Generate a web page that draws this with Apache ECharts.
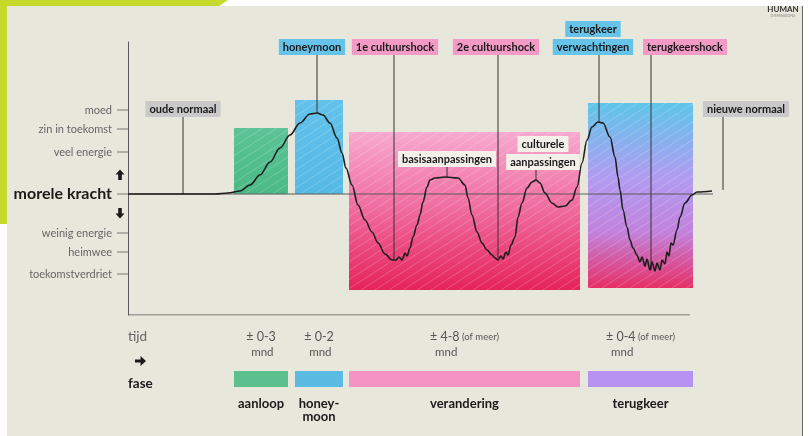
<!DOCTYPE html>
<html><head><meta charset="utf-8">
<script src="https://cdn.jsdelivr.net/npm/echarts@6/dist/echarts.min.js"></script>
<style>html,body{margin:0;padding:0;background:#fff}#c{width:809px;height:436px}</style>
</head><body><div id="c"></div>
<script>
// ---------------- data ----------------
const levelLabels = ['moed', 'zin in toekomst', 'veel energie', 'weinig energie', 'heimwee', 'toekomstverdriet'];
const levelValues = [84, 65, 42, -39, -58, -80];
const axisTitle = 'morele kracht';

const curveX = [0,52,87,100,112,122,132,142,152,162,172,182,189,195,202,209,214,218,224,230,237,244,250,257,264,268,271,274,277,279,282,285,289,292,295,299,302,307,317,330,337,340,344,349,354,359,364,367,370,373,375,378,380,383,387,390,394,399,404,408,412,417,424,430,437,444,449,454,459,464,470,475,482,487,490,492,495,499,502,505,509,512,514,517,519,522,524,527,529,532,534,537,539,541,543,545,549,552,557,564,569,584];
const curveY = [0,0,0,1,3,9,19,32,46,59,71,80,81,79,71,56,41,26,9,-11,-26,-38,-49,-60,-66,-66,-63,-66,-59,-62,-54,-43,-31,-21,-8,7,14,16,17,16,9,-4,-21,-38,-49,-56,-61,-64,-66,-62,-65,-58,-61,-51,-43,-23,-9,6,12,14,11,1,-9,-13,-12,-6,7,31,54,67,72,71,57,37,17,4,-16,-33,-46,-54,-61,-68,-63,-72,-65,-76,-68,-77,-69,-76,-66,-70,-58,-62,-49,-51,-36,-23,-9,-1,2,3];
const baselineEnd = 585;
const timeAxisEnd = 562;
const moraleMin = -121;

const phaseNames = ['aanloop', 'honey-\nmoon', 'verandering', 'terugkeer'];
const phaseDurations = ['± 0-3', '± 0-2', '± 4-8', '± 0-4'];
const phaseNotes = ['', '', '(of meer)', '(of meer)'];
const phaseUnit = 'mnd';
const phaseStart = [106, 167, 221, 460];
const phaseEnd = [160, 215, 452, 565];
const phaseHigh = [66, 94, 62, 91];
const phaseLow = [0, 0, -96, -94];

const annoTexts = ['oude normaal', 'honeymoon', '1e cultuurshock', '2e cultuurshock', 'terugkeer\nverwachtingen', 'terugkeershock', 'nieuwe normaal', 'basisaanpassingen', 'culturele\naanpassingen'];
const annoKind = ['normal', 'high', 'low', 'low', 'high', 'low', 'normal', 'adapt', 'adapt'];
const annoX = [55, 189, 266, 370, 471, 523, 595, 319, 408];
const annoPointY = [0, 81, -66, -64, 72, -76, 4, 17, 14];
const annoLabelX = [55, 184, 267, 368, 465, 557, 618, 319, 415];
const annoLabelY = [85, 147, 147, 147, 147, 147, 85, 35, 32];

// ---------------- styles ----------------
const FONT = 'Lato, "Noto Sans", sans-serif';
const kindColor = { normal: '#c9c9c9', high: '#66c4ea', low: '#f39ac6', adapt: '#f2f0e8' };
const barColors = ['#5bbf8e', '#5bbbe3', '#f592c4', '#b693f2'];
const G = echarts.graphic;
const zoneFills = [
  new G.LinearGradient(0, 0, 0, 1, [{offset: 0, color: '#5cc496'}, {offset: 1, color: '#4bb985'}]),
  new G.LinearGradient(0, 0, 0, 1, [{offset: 0, color: '#62c2ec'}, {offset: 1, color: '#56b9e4'}]),
  new G.LinearGradient(0, 0, 0, 1, [{offset: 0, color: '#f7a9cf'}, {offset: 0.45, color: '#f170a3'}, {offset: 1, color: '#e5235a'}]),
  new G.LinearGradient(0, 0, 0, 1, [{offset: 0, color: '#5ec6ea'}, {offset: 0.4, color: '#b19cf1'}, {offset: 0.7, color: '#c282dc'}, {offset: 1, color: '#e72f66'}])
];

// hatch pattern
const pc = document.createElement('canvas');
pc.width = 14; pc.height = 9;
const px = pc.getContext('2d');
px.strokeStyle = 'rgba(255,255,255,0.2)';
px.lineWidth = 1;
for (const k of [-14, 0, 14]) { px.beginPath(); px.moveTo(k, 9); px.lineTo(k + 14, 0); px.stroke(); }
const hatch = { image: pc, repeat: 'repeat' };

const mctx = document.createElement('canvas').getContext('2d');
function tw(txt, font) { mctx.font = font; return mctx.measureText(txt).width; }

const chart = echarts.init(document.getElementById('c'), null, { renderer: 'canvas' });

function upArrow(cx, cy, dir) {
  const s = dir;
  return { type: 'polygon', shape: { points: [[cx - 4.5, cy - 0.5 * s], [cx, cy - 5.5 * s], [cx + 4.5, cy - 0.5 * s], [cx + 1.8, cy - 0.5 * s], [cx + 1.8, cy + 5 * s], [cx - 1.8, cy + 5 * s], [cx - 1.8, cy - 0.5 * s]] }, style: { fill: '#1a1a1a' } };
}

chart.setOption({
  backgroundColor: '#ffffff',
  animation: false,
  graphic: [
    { type: 'rect', z: -10, shape: { x: 7, y: 6, width: 795, height: 430 }, style: { fill: '#e8e7db' } },
    { type: 'polygon', z: -9, shape: { points: [[0, 0], [228, 0], [219, 6], [7, 6], [7, 224], [0, 224]] }, style: { fill: '#c6da2c' } },
    { type: 'line', z: -9, shape: { x1: 802.5, y1: 6, x2: 802.5, y2: 436 }, style: { stroke: '#6a6a6a', lineWidth: 1 } },
    { type: 'text', z: 5, style: { text: 'HUMAN', x: 783, y: 9, align: 'center', verticalAlign: 'middle', font: 'bold 8px ' + FONT, fill: '#333' } },
    { type: 'text', z: 5, style: { text: 'DIMENSIONS', x: 783, y: 16, align: 'center', verticalAlign: 'middle', font: '4px ' + FONT, fill: '#888' } }
  ],
  grid: { left: 128, top: 42, right: 96, bottom: 121 },
  xAxis: { type: 'value', min: 0, max: baselineEnd, axisLine: { show: false }, axisTick: { show: false }, axisLabel: { show: false }, splitLine: { show: false } },
  yAxis: { type: 'value', min: moraleMin, max: 152, axisLine: { show: true, lineStyle: { color: '#5a5a5a', width: 1 } }, axisTick: { show: false }, axisLabel: { show: false }, splitLine: { show: false } },
  series: [
    { // phase zones + phase bars
      type: 'custom', z: 1, clip: false, silent: true,
      data: phaseStart.map((s, i) => [s, phaseEnd[i], phaseHigh[i], phaseLow[i]]),
      renderItem(params, api) {
        const i = params.dataIndex;
        const cs = params.coordSys;
        const p0 = api.coord([api.value(0), api.value(2)]);
        const p1 = api.coord([api.value(1), api.value(3)]);
        const shape = { x: p0[0], y: p0[1], width: p1[0] - p0[0], height: p1[1] - p0[1] };
        const bottom = cs.y + cs.height;
        const cx = (p0[0] + p1[0]) / 2;
        const f1 = '12.5px ' + FONT, f2 = '9.5px ' + FONT;
        const w1 = tw(phaseDurations[i], f1) + (phaseNotes[i] ? tw(' ' + phaseNotes[i], f2) : 0);
        const left = cx - w1 / 2;
        return { type: 'group', children: [
          { type: 'rect', shape: shape, style: { fill: zoneFills[i] } },
          { type: 'rect', shape: shape, style: { fill: hatch } },
          { type: 'rect', shape: { x: p0[0], y: bottom + 56, width: p1[0] - p0[0], height: 16 }, style: { fill: barColors[i] } },
          { type: 'text', style: { text: phaseNames[i], x: cx, y: bottom + 82, align: 'center', verticalAlign: 'top', font: 'bold 13px ' + FONT, fill: '#1a1a1a', lineHeight: 13 } },
          { type: 'text', style: { text: '{a|' + phaseDurations[i] + '}' + (phaseNotes[i] ? '{b| ' + phaseNotes[i] + '}' : ''), x: left, y: bottom + 22, align: 'left', verticalAlign: 'middle', rich: { a: { font: f1, fill: '#555' }, b: { font: f2, fill: '#555' } } } },
          { type: 'text', style: { text: phaseUnit, x: left + 5, y: bottom + 37, align: 'left', verticalAlign: 'middle', font: '11.5px ' + FONT, fill: '#555' } }
        ] };
      }
    },
    { // bottom time line
      type: 'line', z: 2, silent: true, symbol: 'none',
      data: [[0, moraleMin], [timeAxisEnd, moraleMin]],
      lineStyle: { color: '#5a5a5a', width: 1 }
    },
    { // baseline
      type: 'line', z: 2, silent: true, symbol: 'none',
      data: [[0, 0], [baselineEnd, 0]],
      lineStyle: { color: '#5a5a5a', width: 1 }
    },
    { // connectors
      type: 'custom', z: 3, clip: false, silent: true,
      data: annoX.map((x, i) => [x, annoPointY[i], annoLabelY[i]]),
      renderItem(params, api) {
        const p = api.coord([api.value(0), api.value(1)]);
        const q = api.coord([api.value(0), api.value(2)]);
        return { type: 'line', shape: { x1: p[0], y1: q[1], x2: p[0], y2: p[1] }, style: { stroke: '#333', lineWidth: 1 } };
      }
    },
    { // curve
      type: 'line', z: 4, silent: true, symbol: 'none', smooth: 0.35, smoothMonotone: 'x',
      data: curveX.map((x, i) => [x, curveY[i]]),
      lineStyle: { color: '#1e1e1e', width: 1.6 }
    },
    { // tags
      type: 'custom', z: 6, clip: false, silent: true,
      data: annoLabelX.map((x, i) => [x, annoLabelY[i]]),
      renderItem(params, api) {
        const i = params.dataIndex;
        const p = api.coord([api.value(0), api.value(1)]);
        const lines = annoTexts[i].split('\n');
        const n = lines.length;
        return { type: 'group', children: lines.map((t, j) => ({
          type: 'text', style: { text: t, x: p[0], y: p[1] - (n - 1 - j) * 18, align: 'center', verticalAlign: 'middle', font: 'bold 11px ' + FONT, fill: '#1a1a1a', backgroundColor: kindColor[annoKind[i]], padding: [3, 4, 2, 4] }
        })) };
      }
    },
    { // y level labels
      type: 'custom', z: 5, clip: false, silent: true,
      data: levelValues.map(v => [0, v]),
      renderItem(params, api) {
        const p = api.coord([0, api.value(1)]);
        return { type: 'group', children: [
          { type: 'line', shape: { x1: p[0] - 11, y1: p[1], x2: p[0], y2: p[1] }, style: { stroke: '#777', lineWidth: 1 } },
          { type: 'text', style: { text: levelLabels[params.dataIndex], x: p[0] - 16, y: p[1], align: 'right', verticalAlign: 'middle', font: '11px ' + FONT, fill: '#666' } }
        ] };
      }
    },
    { // axis title, arrows, bottom-left labels
      type: 'custom', z: 5, clip: false, silent: true,
      data: [[0, 0]],
      renderItem(params, api) {
        const cs = params.coordSys;
        const p = api.coord([0, 0]);
        const bottom = cs.y + cs.height;
        return { type: 'group', children: [
          { type: 'line', shape: { x1: p[0] - 11, y1: p[1], x2: p[0], y2: p[1] }, style: { stroke: '#777', lineWidth: 1 } },
          { type: 'text', style: { text: axisTitle, x: p[0] - 16, y: p[1], align: 'right', verticalAlign: 'middle', font: 'bold 16px ' + FONT, fill: '#1a1a1a' } },
          upArrow(p[0] - 8, p[1] - 19, 1),
          upArrow(p[0] - 8, p[1] + 19, -1),
          { type: 'text', style: { text: 'tijd', x: cs.x, y: bottom + 22, align: 'left', verticalAlign: 'middle', font: '13.5px ' + FONT, fill: '#666' } },
          { type: 'polygon', shape: { points: [[cs.x + 7, bottom + 44.5], [cs.x + 12.5, bottom + 44.5], [cs.x + 12.5, bottom + 41], [cs.x + 18, bottom + 46], [cs.x + 12.5, bottom + 51], [cs.x + 12.5, bottom + 47.5], [cs.x + 7, bottom + 47.5]] }, style: { fill: '#1a1a1a' } },
          { type: 'text', style: { text: 'fase', x: cs.x, y: bottom + 69, align: 'left', verticalAlign: 'middle', font: 'bold 13.5px ' + FONT, fill: '#1a1a1a' } }
        ] };
      }
    }
  ]
});
</script>
</body></html>
